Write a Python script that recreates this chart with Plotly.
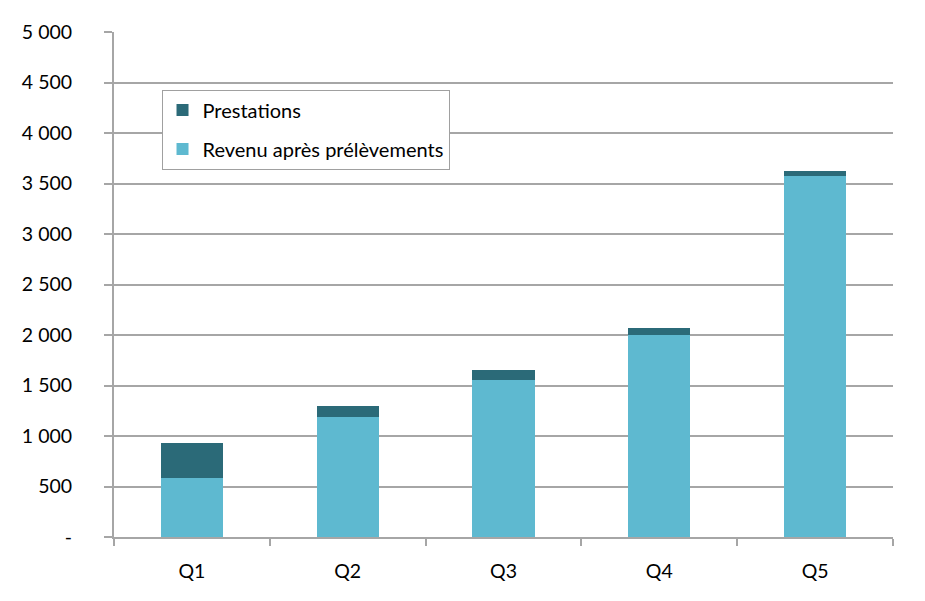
import plotly.graph_objects as go

categories = ["Q1", "Q2", "Q3", "Q4", "Q5"]
revenu = [581, 1185, 1558, 2004, 3579]
prestations = [352, 115, 91, 66, 45]
ytick_vals = [0, 500, 1000, 1500, 2000, 2500, 3000, 3500, 4000, 4500, 5000]
ytick_text = ["-", "500", "1 000", "1 500", "2 000", "2 500", "3 000", "3 500", "4 000", "4 500", "5 000"]

FONT = "Lato, Open Sans, sans-serif"
GRID = "#A6A6A6"

fig = go.Figure()
fig.add_trace(go.Bar(x=categories, y=revenu, name="Revenu après prélèvements",
                     marker=dict(color="#5EB9D0", line=dict(width=0)), width=0.4,
                     legendgroup="a", legendrank=2))
fig.add_trace(go.Bar(x=categories, y=prestations, name="Prestations",
                     marker=dict(color="#2B6A78", line=dict(width=0)), width=0.4,
                     legendgroup="b", legendrank=1))

fig.update_layout(
    barmode="stack",
    width=925, height=601,
    margin=dict(l=106, r=40, t=17, b=72),
    paper_bgcolor="white", plot_bgcolor="white",
    font=dict(family=FONT, size=19.5, color="#000000"),
    legend=dict(x=0.061, y=0.886, xanchor="left", yanchor="top",
                bordercolor="#A0A0A0", borderwidth=1, bgcolor="white",
                traceorder="grouped", tracegroupgap=10,
                font=dict(family=FONT, size=20)),
    xaxis=dict(showgrid=False, showline=True, linecolor=GRID, linewidth=2,
               ticks="outside", tickson="boundaries", ticklen=7, tickcolor=GRID,
               tickwidth=2, ticklabelstandoff=16),
    yaxis=dict(range=[0, 5000], tickvals=ytick_vals, ticktext=ytick_text,
               showgrid=True, gridcolor=GRID, gridwidth=2, zeroline=False,
               showline=True, linecolor=GRID, linewidth=2,
               ticks="outside", ticklen=8, tickcolor=GRID, tickwidth=2,
               ticklabelstandoff=28),
)

fig.write_html("out.html")
